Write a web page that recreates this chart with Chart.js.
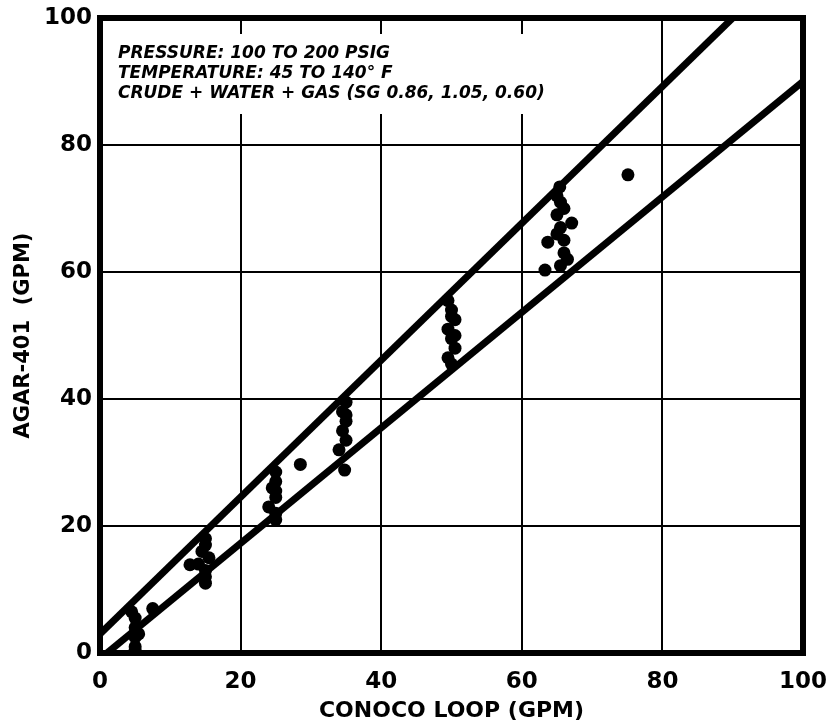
<!DOCTYPE html>
<html>
<head>
<meta charset="utf-8">
<script src="https://cdn.jsdelivr.net/npm/chart.js@4/dist/chart.umd.min.js"></script>
<style>
  html, body { margin: 0; padding: 0; background: #fff; }
  #wrap { width: 833px; height: 726px; }
</style>
</head>
<body>
<div id="wrap"><canvas id="agarChart" width="833" height="726"></canvas></div>
<script>
var loopGpm = [5, 5, 5, 5, 4.5, 5.5, 5, 7.5,
	15, 15, 14.5, 15.5, 14, 15, 15, 15, 12.8,
	25, 25, 24.5, 25, 24, 25, 25, 25, 28.5,
	35, 34.5, 35, 34.5, 35, 34, 35, 34.8,
	49.5, 50, 50.5, 49.5, 50, 50.5, 49.5, 50, 50, 50.5,
	65.4, 65.5, 65, 65.5, 66, 66, 66.5, 65.5, 67.1, 63.7, 63.3, 65, 65, 66, 75.1];
var agarGpm = [1, 2.5, 4, 5.5, 6.5, 3, 0.5, 7,
	18, 17, 16, 15, 14, 13, 11, 12, 13.9,
	28.5, 27, 26, 24.5, 23, 22, 21, 25.5, 29.7,
	39.5, 38, 36.5, 35, 33.5, 32, 37.5, 28.8,
	55.5, 54, 52.5, 51, 49.5, 48, 46.5, 45.5, 53, 50,
	73.4, 71, 69, 67, 65, 63, 62, 61, 67.7, 64.7, 60.3, 66, 72, 70, 75.3];

// band limits drawn on the chart
var upperX = [0, 90];
var upperY = [3, 100];
var lowerX = [1, 100];
var lowerY = [0, 90];

var axisTicks = [0, 20, 40, 60, 80, 100];
var noteLines = [
	'PRESSURE: 100 TO 200 PSIG',
	'TEMPERATURE: 45 TO 140\u00B0 F',
	'CRUDE + WATER + GAS (SG 0.86, 1.05, 0.60)'
];

function toXY( xs, ys ) {
	return xs.map( function ( x, i ) { return { x: x, y: ys[i] }; } );
}

var FONT = '"DejaVu Sans", "Liberation Sans", Arial, sans-serif';

var framePlugin = {
	id: 'frameAndNote',
	beforeDatasetsDraw: function ( chart ) {
		var ctx = chart.ctx, a = chart.chartArea;
		ctx.save();
		ctx.fillStyle = '#fff';
		ctx.fillRect( a.left + 12, a.top + 16, 450, 80 );
		ctx.restore();
	},
	afterDraw: function ( chart ) {
		var ctx = chart.ctx, a = chart.chartArea;
		ctx.save();
		ctx.strokeStyle = '#000';
		ctx.lineWidth = 6;
		ctx.strokeRect( a.left, a.top, a.right - a.left, a.bottom - a.top );
		ctx.fillStyle = '#000';
		ctx.font = 'italic bold 17px ' + FONT;
		ctx.textBaseline = 'middle';
		ctx.textAlign = 'left';
		noteLines.forEach( function ( t, i ) {
			ctx.fillText( t, a.left + 18, a.top + 36 + i * 20 );
		} );
		ctx.restore();
	}
};

var ctx = document.getElementById( 'agarChart' ).getContext( '2d' );
var myChart = new Chart( ctx, {
	type: 'scatter',
	data: {
		datasets: [
			{
				data: toXY( upperX, upperY ),
				showLine: true,
				borderColor: '#000',
				borderWidth: 7,
				pointRadius: 0,
				clip: 0
			},
			{
				data: toXY( lowerX, lowerY ),
				showLine: true,
				borderColor: '#000',
				borderWidth: 7,
				pointRadius: 0,
				clip: 0
			},
			{
				data: toXY( loopGpm, agarGpm ),
				backgroundColor: '#000',
				borderColor: '#000',
				pointRadius: 6.5,
				borderWidth: 0
			}
		]
	},
	options: {
		responsive: false,
		animation: false,
		layout: { padding: { left: 6, right: 30, top: 18, bottom: 2 } },
		plugins: {
			legend: { display: false },
			tooltip: { enabled: false }
		},
		scales: {
			x: {
				type: 'linear',
				min: 0,
				max: 100,
				afterBuildTicks: function ( s ) { s.ticks = axisTicks.map( function ( v ) { return { value: v }; } ); },
				afterFit: function ( s ) {
					s.height = 726 - 653 - 2;
					s.paddingLeft = 0;
					s.paddingRight = 0;
				},
				grid: { color: '#000', lineWidth: 2, drawTicks: false },
				border: { display: false },
				ticks: {
					color: '#000',
					padding: 15,
					maxRotation: 0,
					font: { family: FONT, size: 23, weight: 'bold' }
				},
				title: {
					display: true,
					text: 'CONOCO LOOP (GPM)',
					color: '#000',
					padding: { top: 1, bottom: 0 },
					font: { family: FONT, size: 22, weight: 'bold' }
				}
			},
			y: {
				type: 'linear',
				min: 0,
				max: 100,
				afterBuildTicks: function ( s ) { s.ticks = axisTicks.map( function ( v ) { return { value: v }; } ); },
				afterFit: function ( s ) {
					s.width = 100 - 6;
					s.paddingTop = 0;
					s.paddingBottom = 0;
				},
				grid: { color: '#000', lineWidth: 2, drawTicks: false },
				border: { display: false },
				ticks: {
					color: '#000',
					padding: 8,
					font: { family: FONT, size: 23, weight: 'bold' }
				},
				title: {
					display: true,
					text: 'AGAR-401  (GPM)',
					color: '#000',
					padding: { top: 5, bottom: 0 },
					font: { family: FONT, size: 21, weight: 'bold' }
				}
			}
		}
	},
	plugins: [framePlugin]
} );
</script>
</body>
</html>
